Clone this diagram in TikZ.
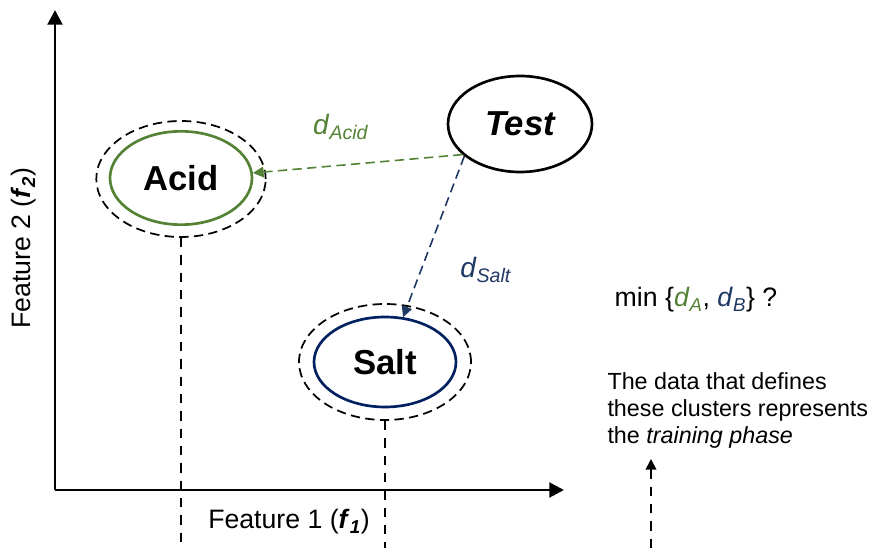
\documentclass[tikz,border=0pt]{standalone}
\usepackage{fontspec}
\setmainfont{Liberation Sans}
\usetikzlibrary{shapes.geometric,arrows.meta}

\definecolor{acidgreen}{RGB}{84,130,53}
\definecolor{saltblue}{RGB}{31,56,100}
\definecolor{saltring}{RGB}{0,32,96}

\tikzset{every picture/.style={line width=0.75pt}}
\tikzset{
  cluster/.style={ellipse,draw,line width=2pt,minimum width=106.5pt,minimum height=70pt,inner sep=0pt,font=\fontsize{26}{30}\selectfont\bfseries},
  halo/.style={ellipse,draw,dash pattern=on 7pt off 4pt,line width=1.3pt,minimum width=127pt,minimum height=87pt},
  guide/.style={dash pattern=on 7pt off 6pt,line width=1.2pt},
  axis/.style={line width=2.2pt,-{Triangle[length=11pt,width=11pt]}},
  lbl/.style={inner sep=0.75pt,font=\fontsize{20}{23}\selectfont},
  dlbl/.style={inner sep=0.75pt,font=\fontsize{21}{24}\selectfont},
}

\begin{document}
\begin{tikzpicture}[x=0.75pt,y=0.75pt,yscale=-1,xscale=1]
\useasboundingbox (0,0) rectangle (877,548);

%Axes
\coordinate (origin) at (55,490);
\coordinate (ytip) at (55,10);
\coordinate (xtip) at (564,490);
\draw [axis] (origin) -- (ytip);
\draw [axis] (origin) -- (xtip);

%Shape: Ellipse [acid]
\node [halo] (acidhalo) at (181,179) {};
\node [cluster,draw=acidgreen] (acid) at (181,178) {Acid};
%Shape: Ellipse [salt]
\node [halo,minimum width=129pt] (salthalo) at (385,362) {};
\node [cluster,draw=saltring,minimum height=67.5pt] (salt) at (385,362) {Salt};
%Shape: Ellipse [test]
\node [cluster,draw=black,minimum width=108pt,minimum height=72pt,font=\fontsize{26}{30}\selectfont\bfseries\itshape] (test) at (520,124) {Test};

%Guide lines
\coordinate (acidfoot) at (acidhalo.south |- 0,548);
\coordinate (saltfoot) at (salthalo.south |- 0,548);
\draw [guide] (acidhalo.south) -- (acidfoot);
\draw [guide] (salthalo.south) -- (saltfoot);

%Distances
\draw [acidgreen,dash pattern=on 7pt off 4pt,line width=1.2pt,-{Triangle[length=8pt,width=8pt]}] (test.208) -- (acid.4);
\draw [saltblue,dash pattern=on 7pt off 4pt,line width=1.2pt,-{Triangle[length=8pt,width=8pt]}] (test.210) -- (salt.68);

%Training arrow
\coordinate (trainfoot) at (651,548);
\coordinate (traintip) at (651,459);
\draw [guide,-{Triangle[length=8pt,width=8pt]}] (trainfoot) -- (traintip);

% Text Node
\node [dlbl,text=acidgreen] (dacid) at (341,127) {\textit{d}\textsubscript{\textit{Acid}}};
% Text Node
\node [dlbl,text=saltblue] (dsalt) at (486,270) {\textit{d}\textsubscript{\textit{Salt}}};
% Text Node
\node [lbl] (minq) at (696,300) {min \{\textcolor{acidgreen}{\textit{d}\textsubscript{\textit{A}}}, \textcolor{saltblue}{\textit{d}\textsubscript{\textit{B}}}\} ?};
% Text Node
\node [lbl,anchor=north west,align=left,font=\fontsize{17.5}{20.3}\selectfont] (training) at (606,371) {The data that defines\\these clusters represents\\the \textit{training phase}};
% Text Node
\node [lbl] (xlabel) at (289,522) {Feature 1 (\textbf{\textit{f}}\textsubscript{\textbf{\textit{1}}})};
% Text Node
\node [lbl,rotate=90] (ylabel) at (24,248) {Feature 2 (\textbf{\textit{f}}\textsubscript{\textbf{\textit{2}}})};

\end{tikzpicture}
\end{document}
